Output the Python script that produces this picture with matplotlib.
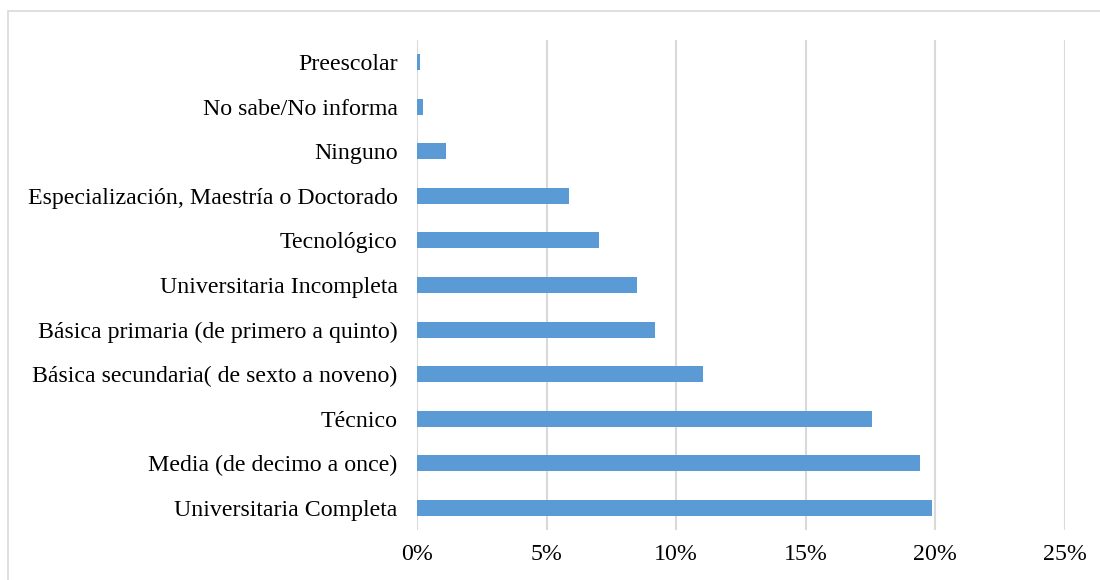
import matplotlib.pyplot as plt
from matplotlib.patches import Rectangle
from matplotlib.ticker import FuncFormatter

categorias = [
    "Universitaria Completa",
    "Media (de decimo a once)",
    "Técnico",
    "Básica secundaria( de sexto a noveno)",
    "Básica primaria (de primero a quinto)",
    "Universitaria Incompleta",
    "Tecnológico",
    "Especialización, Maestría o Doctorado",
    "Ninguno",
    "No sabe/No informa",
    "Preescolar",
]
porcentajes = [19.87, 19.42, 17.55, 11.05, 9.2, 8.5, 7.03, 5.87, 1.1, 0.25, 0.1]
ticks_x = [0, 5, 10, 15, 20, 25]

plt.rcParams['font.family'] = ['Liberation Serif', 'DejaVu Serif']

fig = plt.figure(figsize=(11, 5.8), dpi=100)
# marco gris claro alrededor del grafico
fig.patches.append(Rectangle((8 / 1100, -0.2), 1.2, 1.2 - 11 / 580, transform=fig.transFigure,
                             fill=False, edgecolor='#D9D9D9', linewidth=1.2))

ax = fig.add_axes([417 / 1100, 1 - 530 / 580, (1065 - 417) / 1100, (530 - 40) / 580])

y = range(len(categorias))
ax.barh(y, porcentajes, height=0.36, color='#5B9BD5', zorder=3)

ax.set_xlim(0, 25)
ax.set_ylim(-0.5, len(categorias) - 0.5)
ax.set_xticks(ticks_x)
ax.xaxis.set_major_formatter(FuncFormatter(lambda v, p: "%d%%" % v))
ax.set_yticks(list(y))
ax.set_yticklabels(categorias)
ax.grid(axis='x', color='#D9D9D9', linewidth=1.5, zorder=0)
ax.tick_params(axis='both', length=0, labelsize=17.2, colors='#000000')
ax.tick_params(axis='y', pad=14)
ax.tick_params(axis='x', pad=10)
for s in ax.spines.values():
    s.set_visible(False)

fig.savefig('out.png', dpi=100)
